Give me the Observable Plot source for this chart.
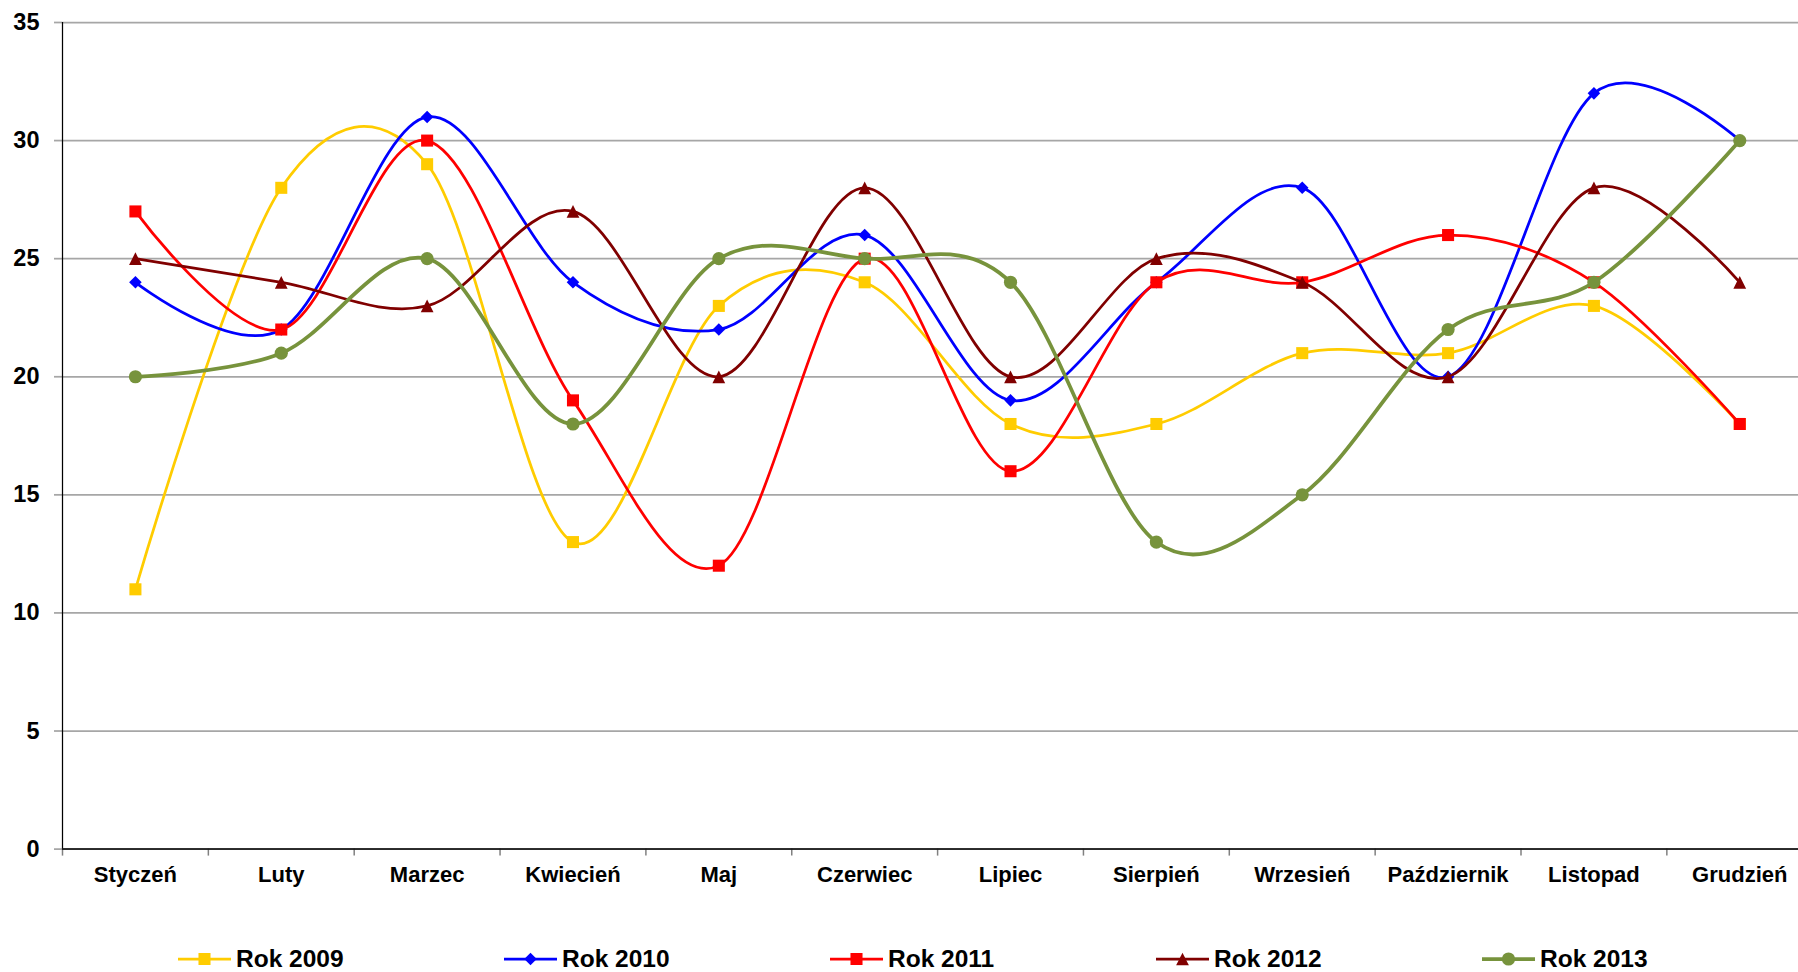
<!DOCTYPE html>
<html>
<head>
<meta charset="utf-8">
<script src="https://cdn.jsdelivr.net/npm/d3@7"></script>
<script src="https://cdn.jsdelivr.net/npm/@observablehq/plot@0.6"></script>
<style>
  body { margin: 0; background: #fff; font-family: "Liberation Sans", Arial, sans-serif; }
  #chart { position: relative; width: 1798px; height: 972px; overflow: hidden; background: #fff; }
  #legend { position: absolute; left: 0; top: 900px; width: 1798px; height: 72px; }
  .item { position: absolute; top: 43.6px; height: 30px; display: flex; align-items: center;
          font-weight: bold; font-size: 24.5px; color: #000; white-space: nowrap; }
  .item svg { display: block; overflow: visible; }
</style>
</head>
<body>
<div id="chart"></div>
<script>
// ---- data ----
const months = ["Styczeń","Luty","Marzec","Kwiecień","Maj","Czerwiec","Lipiec","Sierpień","Wrzesień","Październik","Listopad","Grudzień"];
const seriesNames = ["Rok 2009","Rok 2010","Rok 2011","Rok 2012","Rok 2013"];
const rok2009 = [11,28,29,13,23,24,18,18,21,21,23,18];
const rok2010 = [24,22,31,24,22,26,19,24,28,20,32,30];
const rok2011 = [27,22,30,19,12,25,16,24,24,26,24,18];
const rok2012 = [25,24,23,27,20,28,20,25,24,20,28,24];
const rok2013 = [20,21,25,18,25,25,24,13,15,22,24,30];
const yTicks = [0,5,10,15,20,25,30,35];

// ---- symbols ----
const diamondSym = { draw(ctx, size) { const h = Math.sqrt(size) * 0.6;
  ctx.moveTo(0, -h); ctx.lineTo(h, 0); ctx.lineTo(0, h); ctx.lineTo(-h, 0); ctx.closePath(); } };
const triangleSym = { draw(ctx, size) { const w = Math.sqrt(size) * 0.58; const h = w * 2;
  ctx.moveTo(0, -h / 2); ctx.lineTo(w, h / 2); ctx.lineTo(-w, h / 2); ctx.closePath(); } };

const seriesArrays = [rok2009, rok2010, rok2011, rok2012, rok2013];
const styles = [
  { color: "#FFCC00", symbol: d3.symbolSquare, r: 6.8, sw: 2.75 },
  { color: "#0000FF", symbol: diamondSym, r: 5.9, sw: 2.75 },
  { color: "#FF0000", symbol: d3.symbolSquare, r: 6.8, sw: 2.75 },
  { color: "#800000", symbol: triangleSym, r: 6.2, sw: 2.75 },
  { color: "#77933C", symbol: d3.symbolCircle, r: 6.6, sw: 3.75 }
];

const xDomain = [-0.5, months.length - 0.5];
const monthIdx = d3.range(months.length);
const boundaries = monthIdx.map(i => i - 0.5);

const seriesMarks = seriesArrays.flatMap((arr, s) => {
  const rows = arr.map((v, i) => ({ i, value: v, series: seriesNames[s] }));
  const st = styles[s];
  return [
    Plot.line(rows, { x: "i", y: "value", stroke: st.color, strokeWidth: st.sw, curve: "cardinal" }),
    Plot.dot(rows, { x: "i", y: "value", symbol: st.symbol, r: st.r, fill: st.color, stroke: "none" })
  ];
});

const H = 900;
const chart = Plot.plot({
  width: 1798,
  height: H,
  marginTop: 22,
  marginBottom: H - 848.6,
  marginLeft: 62,
  marginRight: 0,
  style: { fontFamily: "'Liberation Sans', Arial, sans-serif", background: "#fff", overflow: "visible" },
  x: { type: "linear", domain: xDomain, range: [62, 62 + 145.85 * months.length] },
  y: { domain: [0, 35] },
  marks: [
    Plot.ruleY(yTicks, { stroke: "#A6A6A6", strokeWidth: 1.75 }),
    Plot.axisY({ ticks: yTicks, tickSize: 8, tickPadding: 15, stroke: "#A6A6A6", strokeWidth: 1.75,
                 fill: "#000", fontSize: 23.5, fontWeight: "bold", label: null }),
    Plot.axisX({ ticks: boundaries, tickFormat: () => "", tickSize: 7, stroke: "#808080", strokeWidth: 1.5, label: null }),
    Plot.axisX({ ticks: monthIdx, tickFormat: i => months[i], tickSize: 0, tickPadding: 17,
                 fill: "#000", fontSize: 22, fontWeight: "bold", label: null }),
    Plot.ruleX([xDomain[0]], { stroke: "#000", strokeWidth: 1.25 }),
    Plot.ruleY([0], { stroke: "#000", strokeWidth: 1.5 }),
    ...seriesMarks
  ]
});
document.getElementById("chart").appendChild(chart);

// ---- legend ----
const legend = d3.select("#chart").append("div").attr("id", "legend");
seriesNames.forEach((name, s) => {
  const st = styles[s];
  const item = legend.append("div").attr("class", "item").style("left", (178 + 326 * s) + "px");
  const svg = item.append("svg").attr("width", 53).attr("height", 30);
  svg.append("line").attr("x1", 0).attr("x2", 53).attr("y1", 15).attr("y2", 15)
    .attr("stroke", st.color).attr("stroke-width", st.sw);
  svg.append("path").attr("transform", "translate(26.5,15)")
    .attr("d", d3.symbol(st.symbol, Math.PI * st.r * st.r)()).attr("fill", st.color);
  item.append("span").style("margin-left", "5px").text(name);
});
</script>
</body>
</html>
